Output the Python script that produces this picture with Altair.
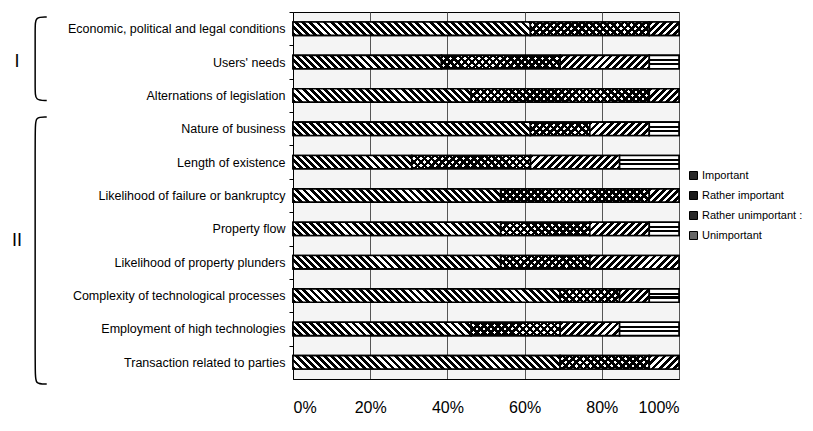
import math
import altair as alt

# ---------------- data ----------------
factors = [
    "Economic, political and legal conditions",
    "Users' needs",
    "Alternations of legislation",
    "Nature of business",
    "Length of existence",
    "Likelihood of failure or bankruptcy",
    "Property flow",
    "Likelihood of property plunders",
    "Complexity of technological processes",
    "Employment of high technologies",
    "Transaction related to parties",
]
categories = ["Important", "Rather important", "Rather unimportant", "Unimportant"]
important = [61.5, 38.5, 46.2, 61.5, 30.8, 53.8, 53.8, 53.8, 69.2, 46.2, 69.2]
rather_important = [30.8, 30.8, 46.2, 15.4, 30.8, 38.5, 23.1, 23.1, 15.4, 23.1, 23.1]
rather_unimportant = [7.7, 23.1, 7.7, 15.4, 23.1, 7.7, 15.4, 23.1, 7.7, 15.4, 7.7]
unimportant = [0, 7.7, 0, 7.7, 15.4, 0, 7.7, 0, 7.7, 15.4, 0]
x_ticks = [0, 0.2, 0.4, 0.6, 0.8, 1.0]

groups = ["I", "II"]
group_top = [0.15, 3.15]      # in row units (0 = top of first row)
group_bottom = [2.65, 11.15]
group_label_row = [1.5, 6.85]

# ---------------- layout / style ----------------
PLOT_W = 386
PLOT_H = 367
PAD_INNER = 0.6
PAD_OUTER = 0.3
N = len(factors)
STEP = PLOT_H / (N - PAD_INNER + 2 * PAD_OUTER)
BAR_H = STEP * (1 - PAD_INNER)
FONT = "Liberation Sans, Arial, Helvetica, sans-serif"
NARROW = "Liberation Sans Narrow, Liberation Sans, Arial, sans-serif"


def diag_gradient(W, H, direction, period, black_frac, on="#000", off="#fff"):
    """Diagonal hatch as an objectBoundingBox linear gradient."""
    k = (W + H) / (W * W + H * H)
    if direction == "back":  # "\" lines
        x1, y1, x2, y2 = 0, 1, k * W, 1 - k * H
    else:  # "/" lines
        x1, y1, x2, y2 = 0, 0, k * W, k * H
    D = (W + H) / math.sqrt(2)
    p = period / D
    stops = []
    t = 0.0
    while t < 1:
        b = min(t + p * black_frac, 1.0)
        c = min(t + p, 1.0)
        stops += [(t, on), (b, on), (b, off), (c, off)]
        t += p
    return {
        "gradient": "linear",
        "x1": x1, "y1": y1, "x2": round(x2, 6), "y2": round(y2, 6),
        "stops": [{"offset": round(o, 5), "color": col} for o, col in stops],
    }


def wave_gradient():
    bands = [(0, 0.28, "#fff"), (0.28, 0.44, "#000"), (0.44, 0.56, "#fff"),
             (0.56, 0.72, "#000"), (0.72, 1.0, "#fff")]
    stops = []
    for a, b, col in bands:
        stops += [{"offset": a, "color": col}, {"offset": b, "color": col}]
    return {"gradient": "linear", "x1": 0, "y1": 0, "x2": 0, "y2": 1, "stops": stops}


series = [important, rather_important, rather_unimportant, unimportant]
records = []
for i, f in enumerate(factors):
    total = sum(s[i] for s in series)
    for j, c in enumerate(categories):
        v = series[j][i]
        if v <= 0:
            continue
        W = v / total * PLOT_W
        rec = {"factor": f, "cat": c, "idx": j, "pct": v}
        if j == 0:
            rec["grad"] = diag_gradient(W, BAR_H, "back", 5.0, 0.55)
        elif j == 1:
            rec["grad"] = diag_gradient(W, BAR_H, "fwd", 5.0, 0.5)
            rec["grad2"] = diag_gradient(W, BAR_H, "back", 5.0, 0.5,
                                         on="#000", off="rgba(255,255,255,0)")
        elif j == 2:
            rec["grad"] = diag_gradient(W, BAR_H, "fwd", 5.0, 0.55)
        else:
            rec["grad"] = wave_gradient()
        records.append(rec)

bracket_recs = []
for g, top, bot in zip(groups, group_top, group_bottom):
    pts = [(-0.638, top), (-0.668, top), (-0.668, top + 0.3),
           (-0.668, bot - 0.3), (-0.668, bot), (-0.638, bot)]
    for k, (fx, r) in enumerate(pts):
        bracket_recs.append({"grp": g, "i": k, "fx": fx, "r": r})
label_recs = [{"grp": g, "fx": -0.715, "r": r} for g, r in zip(groups, group_label_row)]

# ---------------- chart ----------------
base = alt.Chart(alt.Data(values=records)).transform_stack(
    stack="pct", groupby=["factor"], as_=["x0", "x1"],
    sort=[alt.SortField(field="idx", order="ascending")], offset="normalize",
)

y_enc = alt.Y(
    "factor:N", sort=factors,
    scale=alt.Scale(domain=factors, paddingInner=PAD_INNER, paddingOuter=PAD_OUTER),
    axis=alt.Axis(
        title=None, labelFont=FONT, labelFontSize=12.5, labelColor="#000",
        labelLimit=320, labelPadding=4, tickSize=4, tickColor="#000",
        tickOffset=-STEP / 2, labelOffset=STEP / 2, domainColor="#000", grid=False,
    ),
)
x_enc = alt.X(
    "x0:Q", scale=alt.Scale(domain=[0, 1], nice=False),
    axis=alt.Axis(
        title=None, values=x_ticks, format=".0%", labelFont=FONT, labelFontSize=16,
        labelColor="#000", ticks=False, tickSize=0, labelPadding=20,
        grid=True, gridColor="#555", gridWidth=1, domainColor="#000",
    ),
)

legend_layer = base.mark_bar(stroke="#000", strokeWidth=1.6).encode(
    y=y_enc, x=x_enc, x2="x1:Q",
    color=alt.Color(
        "cat:N", sort=categories,
        scale=alt.Scale(domain=categories, range=["#2a2a2a", "#1a1a1a", "#2a2a2a", "#666666"]),
        legend=alt.Legend(
            title=None, orient="none", legendX=395, legendY=158,
            symbolType="square", symbolSize=64, symbolStrokeColor="#000",
            symbolStrokeWidth=1, labelFont=NARROW, labelFontSize=11,
            labelColor="#000", rowPadding=7, labelOffset=3, labelLimit=200,
            labelExpr="datum.label == 'Rather unimportant' ? 'Rather unimportant :' : datum.label",
        ),
    ),
)
pattern_layer = base.mark_bar(stroke="#000", strokeWidth=1.6).encode(
    y=y_enc, x=x_enc, x2="x1:Q", fill=alt.Fill("grad:N", scale=None),
)
cross_layer = base.transform_filter(alt.datum.cat == "Rather important").mark_bar(
    strokeWidth=0
).encode(
    y=y_enc, x=x_enc, x2="x1:Q", fill=alt.Fill("grad2:N", scale=None),
)
bars = alt.layer(legend_layer, pattern_layer, cross_layer)

bx = alt.X("fx:Q", scale=alt.Scale(domain=[0, 1], nice=False, zero=False), axis=None)
by = alt.Y("r:Q", scale=alt.Scale(domain=[0, N], reverse=True, nice=False, zero=False), axis=None)
brackets = alt.Chart(alt.Data(values=bracket_recs)).mark_line(
    interpolate="basis", color="#000", strokeWidth=1.5
).encode(x=bx, y=by, detail="grp:N", order="i:Q")
numerals = alt.Chart(alt.Data(values=label_recs)).mark_text(
    font=FONT, fontSize=18, color="#000"
).encode(x=bx, y=by, text="grp:N")
deco = alt.layer(brackets, numerals)

chart = alt.layer(bars, deco).resolve_scale(
    x="independent", y="independent"
).resolve_axis(x="independent", y="independent").properties(
    width=PLOT_W, height=PLOT_H,
    autosize=alt.AutoSizeParams(type="none"),
    padding={"left": 285, "top": 4, "right": 126, "bottom": 46},
    background="#ffffff",
).configure_view(stroke="#000", strokeWidth=1, fill="#f4f4f4")

chart.save("out.html", embed_options={"renderer": "svg", "actions": False})
